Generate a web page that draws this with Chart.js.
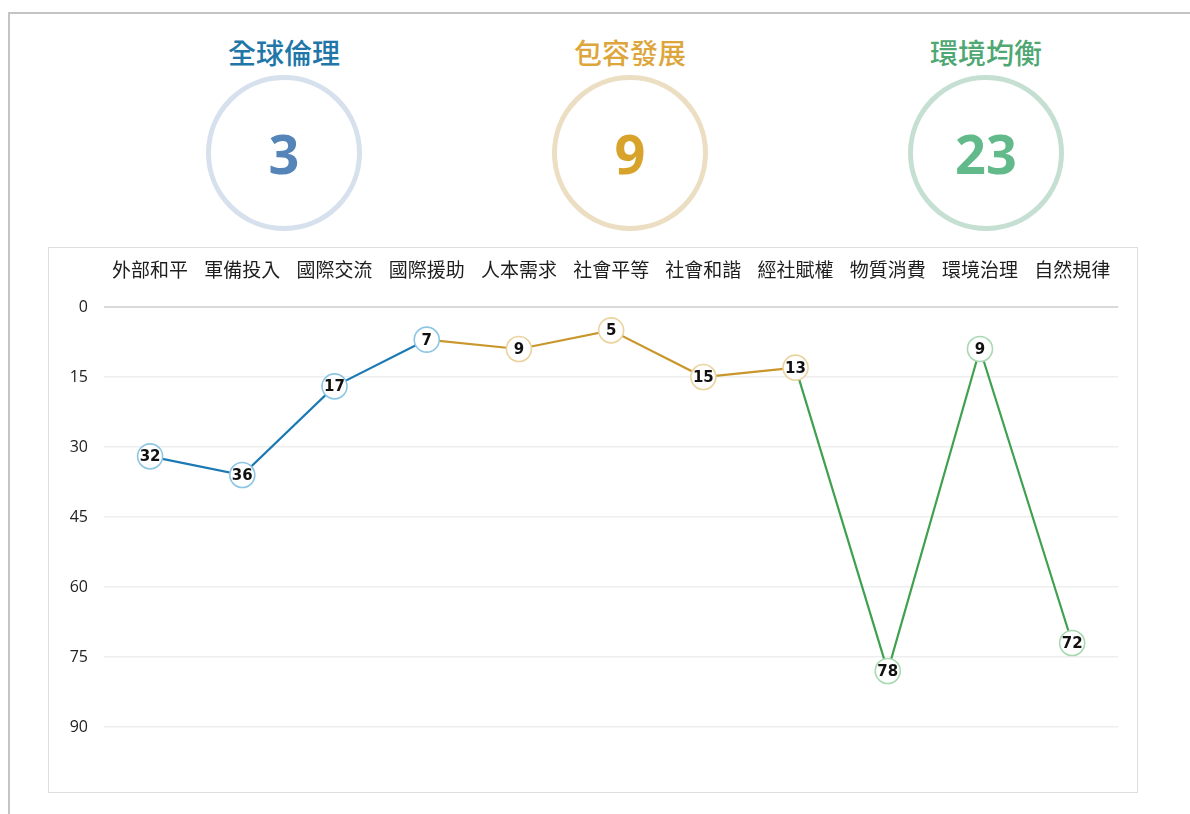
<!DOCTYPE html>
<html>
<head>
<meta charset="utf-8">
<script src="https://cdn.jsdelivr.net/npm/chart.js@4"></script>
<style>
  html, body { margin: 0; padding: 0; background: #fff; width: 1190px; height: 814px; overflow: hidden; }
  #frame { position: absolute; left: 8px; top: 12px; width: 1200px; height: 900px;
           border-left: 2px solid #c4c4c4; border-top: 2px solid #c4c4c4; }
  .kpi { position: absolute; width: 160px; text-align: center; font-family: "Noto Sans CJK TC", sans-serif; }
  .kpi .title { position: absolute; left: -40px; width: 240px; top: 0; font-size: 28px; line-height: 40px; text-align: center; font-weight: 500; }
  .kpi .ring { position: absolute; left: 2px; top: 43px; width: 146px; height: 146px; border-radius: 50%;
               border-style: solid; border-width: 5px; box-sizing: content-box; }
  .kpi .num { position: absolute; left: 0; width: 160px; top: 89px; font-family: "Open Sans", sans-serif;
              font-weight: 700; font-size: 54px; line-height: 64px; }
  #box { position: absolute; left: 48px; top: 247px; width: 1090px; height: 546px; box-sizing: border-box;
         border: 1.5px solid #dedede; }
  #wrap { position: absolute; left: 0; top: 0; width: 1088px; height: 544px; }
</style>
</head>
<body>
<div id="frame"></div>
<div id="kpis"></div>
<div id="box"><div id="wrap"><canvas id="c"></canvas></div></div>
<script>
// ---- data ----
const categories = ['外部和平','軍備投入','國際交流','國際援助','人本需求','社會平等','社會和諧','經社賦權','物質消費','環境治理','自然規律'];
const rankValues = [32, 36, 17, 7, 9, 5, 15, 13, 78, 9, 72];
const globalEthicsIdx = [0, 1, 2, 3];
const inclusiveDevIdx = [3, 4, 5, 6, 7];
const envBalanceIdx = [7, 8, 9, 10];
const kpiTitles = ['全球倫理', '包容發展', '環境均衡'];
const kpiValues = [3, 9, 23];
const yTicks = [0, 15, 30, 45, 60, 75, 90];

// ---- KPI widgets ----
const kpiStyle = [
  { cx: 284, title: '#2176a8', ring: '#d6e1ed', num: '#5585b8' },
  { cx: 630, title: '#dda63c', ring: '#ecdec2', num: '#d7a32a' },
  { cx: 986, title: '#4fa873', ring: '#c5e0d2', num: '#62ba8a' }
];
const kpis = document.getElementById('kpis');
kpiTitles.forEach((t, i) => {
  const s = kpiStyle[i];
  const d = document.createElement('div');
  d.className = 'kpi';
  d.style.left = (s.cx - 80) + 'px';
  d.style.top = '32px';
  d.innerHTML = '<div class="title" style="color:' + s.title + '">' + t + '</div>' +
    '<div class="ring" style="border-color:' + s.ring + '"></div>' +
    '<div class="num" style="color:' + s.num + '">' + kpiValues[i] + '</div>';
  kpis.appendChild(d);
});

// ---- chart ----
function seriesFor(idx) {
  return rankValues.map((v, i) => idx.includes(i) ? v : null);
}
const groups = [
  { idx: globalEthicsIdx, line: '#1b79b3', ring: '#8cc6e4', hideFirst: false },
  { idx: inclusiveDevIdx, line: '#c9962c', ring: '#ead39e', hideFirst: true },
  { idx: envBalanceIdx, line: '#3fa150', ring: '#a9d9b3', hideFirst: true }
];
const datasets = groups.map(g => ({
  data: seriesFor(g.idx),
  borderColor: g.line,
  borderWidth: 2.2,
  backgroundColor: '#fff',
  pointBackgroundColor: '#fff',
  pointBorderColor: g.ring,
  pointBorderWidth: 1.6,
  pointRadius: ctx => (g.hideFirst && ctx.dataIndex === g.idx[0]) ? 0 : 12.5,
  pointHoverRadius: ctx => (g.hideFirst && ctx.dataIndex === g.idx[0]) ? 0 : 12.5,
  spanGaps: false,
  tension: 0,
  fill: false,
  _hideFirst: g.hideFirst,
  _first: g.idx[0]
}));

const valueLabels = {
  id: 'valueLabels',
  afterDatasetsDraw(chart) {
    const ctx = chart.ctx;
    ctx.save();
    ctx.font = 'bold 15px "DejaVu Sans", Verdana, sans-serif';
    ctx.fillStyle = '#111';
    ctx.textAlign = 'center';
    ctx.textBaseline = 'middle';
    chart.data.datasets.forEach((ds, di) => {
      const meta = chart.getDatasetMeta(di);
      meta.data.forEach((pt, i) => {
        const v = ds.data[i];
        if (v === null || v === undefined) return;
        if (ds._hideFirst && i === ds._first) return;
        ctx.fillText(String(v), pt.x, pt.y + 1);
      });
    });
    ctx.restore();
  }
};

new Chart(document.getElementById('c'), {
  type: 'line',
  data: { labels: categories, datasets },
  options: {
    responsive: true,
    maintainAspectRatio: false,
    animation: false,
    layout: { padding: { left: 0, right: 18, top: 0, bottom: 65 } },
    plugins: { legend: { display: false }, tooltip: { enabled: false } },
    scales: {
      x: {
        position: 'top',
        offset: true,
        grid: { display: false, drawTicks: false },
        border: { display: false },
        ticks: { color: '#1e1e1e', padding: 26, maxRotation: 0, autoSkip: false,
                 font: { family: '"Noto Sans CJK TC", sans-serif', size: 19 } },
        afterFit(scale) { scale.height = 59; }
      },
      y: {
        reverse: true,
        min: 0,
        max: 90,
        afterBuildTicks(scale) { scale.ticks = yTicks.map(v => ({ value: v })); },
        grid: {
          drawTicks: false,
          color: ctx => ctx.tick && ctx.tick.value === 0 ? '#dadada' : '#eeeeee',
          lineWidth: ctx => ctx.tick && ctx.tick.value === 0 ? 2 : 1.5
        },
        border: { display: false },
        ticks: { color: '#222', padding: 16,
                 font: { family: '"Open Sans", "Noto Sans", sans-serif', size: 16 } },
        afterFit(scale) { scale.width = 55; }
      }
    }
  },
  plugins: [valueLabels]
});
</script>
</body>
</html>
